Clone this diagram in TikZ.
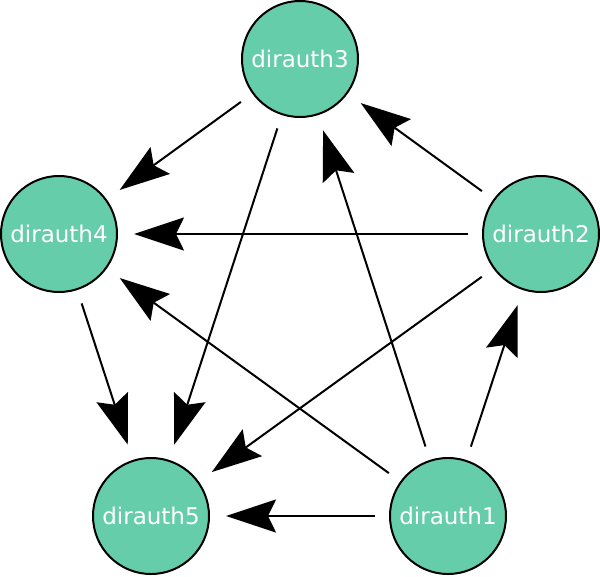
\documentclass[tikz,border=0pt]{standalone}
\usepackage{fontspec}
\setmainfont{DejaVu Sans}
\usetikzlibrary{arrows.meta}
\definecolor{aqua}{HTML}{66CDAA}
\begin{document}
\begin{tikzpicture}[x=1pt,y=-1pt,
  da/.style={circle,draw=black,line width=2pt,fill=aqua,minimum size=116pt,inner sep=0pt,text=white,font=\fontsize{23}{27}\selectfont},
  edge/.style={line width=2pt,-{Stealth[length=50pt,width=33pt,inset=8pt]},shorten <=14pt,shorten >=16pt}]
\useasboundingbox (0,0) rectangle (600,576);
\node[da] (d3) at (300,59) {dirauth3};
\node[da] (d2) at (541,234) {dirauth2};
\node[da] (d1) at (448,516) {dirauth1};
\node[da] (d5) at (151,516) {dirauth5};
\node[da] (d4) at (59,234) {dirauth4};
\draw[edge] (d1) -- (d5);
\draw[edge] (d1) -- (d2);
\draw[edge] (d1) -- (d3);
\draw[edge] (d1) -- (d4);
\draw[edge] (d2) -- (d3);
\draw[edge] (d2) -- (d4);
\draw[edge] (d2) -- (d5);
\draw[edge] (d3) -- (d4);
\draw[edge] (d3) -- (d5);
\draw[edge] (d4) -- (d5);
\end{tikzpicture}
\end{document}
